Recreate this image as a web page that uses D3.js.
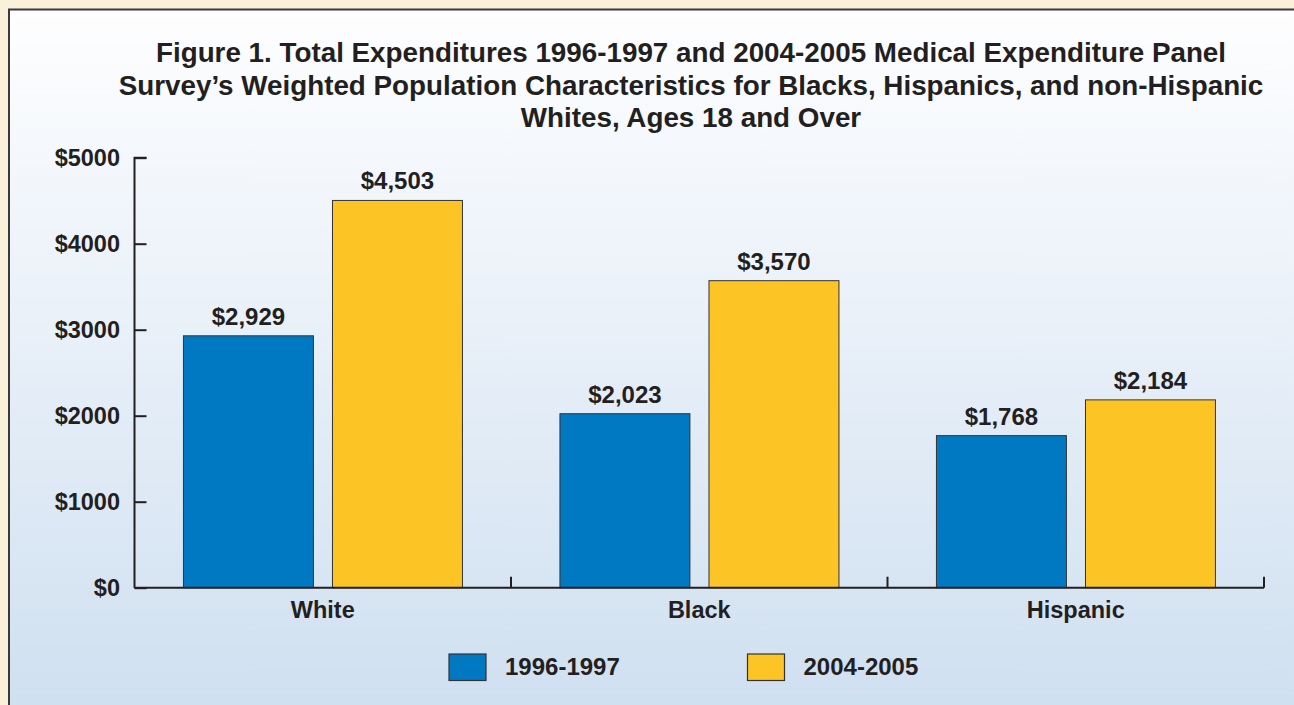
<!DOCTYPE html>
<html>
<head>
<meta charset="utf-8">
<script src="https://cdn.jsdelivr.net/npm/d3@7"></script>
<style>
  html, body { margin: 0; padding: 0; background: #FBF1DB; }
  svg { display: block; }
  text { font-family: "Liberation Sans", Arial, Helvetica, sans-serif; font-weight: bold; fill: #231F20; }
</style>
</head>
<body>
<svg id="chart" width="1294" height="705"></svg>
<script>
const titleLines = [
  "Figure 1. Total Expenditures 1996-1997 and 2004-2005 Medical Expenditure Panel",
  "Survey\u2019s Weighted Population Characteristics for Blacks, Hispanics, and non-Hispanic",
  "Whites, Ages 18 and Over"
];
const categories = ["White", "Black", "Hispanic"];
const seriesNames = ["1996-1997", "2004-2005"];
const values1996 = [2929, 2023, 1768];
const values2004 = [4503, 3570, 2184];
const yTicks = [0, 1000, 2000, 3000, 4000, 5000];
const seriesColors = ["#0079C2", "#FDC425"];

const seriesValues = [values1996, values2004];
const W = 1294, H = 705;
const svg = d3.select("#chart");

// background
const defs = svg.append("defs");
const grad = defs.append("linearGradient").attr("id", "bg").attr("x1", 0).attr("y1", 0).attr("x2", 0).attr("y2", 1);
grad.append("stop").attr("offset", "0%").attr("stop-color", "#FEFEFF");
grad.append("stop").attr("offset", "100%").attr("stop-color", "#CEDFF0");
svg.append("rect").attr("x", 0).attr("y", 0).attr("width", W).attr("height", H).attr("fill", "#FBF1DB");
svg.append("rect").attr("x", 9).attr("y", 9.5).attr("width", W + 10).attr("height", H + 10)
  .attr("fill", "url(#bg)").attr("stroke", "#3a3a3a").attr("stroke-width", 2);

// title
const title = svg.append("text").attr("text-anchor", "middle").style("font-size", "27.8px");
titleLines.forEach((t, i) => {
  title.append("tspan").attr("x", 691).attr("y", 62 + i * 32.7).text(t);
});

// scales
const plotL = 134.5, plotR = 1264, y0 = 587.7, yTop = 157.7;
const y = d3.scaleLinear().domain([0, 5000]).range([y0, yTop]);
const x0 = d3.scaleBand().domain(categories).range([plotL, plotR]).padding(0);
const bw = x0.bandwidth();
const x1 = d3.scaleBand().domain(seriesNames).range([bw * 0.13, bw * 0.13 + 279]).paddingInner(0.128).paddingOuter(0);

// bars
const g = svg.append("g");
categories.forEach((c, ci) => {
  seriesNames.forEach((s, si) => {
    const v = seriesValues[si][ci];
    g.append("rect")
      .attr("x", x0(c) + x1(s))
      .attr("y", y(v))
      .attr("width", x1.bandwidth())
      .attr("height", y0 - y(v))
      .attr("fill", seriesColors[si])
      .attr("stroke", "#333")
      .attr("stroke-width", 1);
    g.append("text")
      .attr("x", x0(c) + x1(s) + x1.bandwidth() / 2)
      .attr("y", y(v) - 11)
      .attr("text-anchor", "middle")
      .style("font-size", "24px")
      .text("$" + d3.format(",")(v));
  });
});

// y axis
const yAxis = d3.axisRight(y).tickValues(yTicks).tickSize(12).tickFormat(() => "");
const yg = svg.append("g").attr("transform", `translate(${plotL},0)`).call(yAxis);
yg.select(".domain").attr("d", `M12,${yTop}H0V${y0}`).attr("stroke", "#231F20").attr("stroke-width", 2);
yg.selectAll(".tick line").attr("stroke", "#231F20").attr("stroke-width", 2);
yTicks.forEach(t => {
  svg.append("text").attr("x", 120).attr("y", y(t) + 8).attr("text-anchor", "end")
    .style("font-size", "23.5px").text("$" + t);
});

// x axis
const xBoundaries = [plotL + bw, plotL + 2 * bw, plotR];
const xg = svg.append("g");
xg.append("line").attr("x1", plotL).attr("x2", plotR).attr("y1", y0).attr("y2", y0)
  .attr("stroke", "#231F20").attr("stroke-width", 2);
xBoundaries.forEach(xb => {
  xg.append("line").attr("x1", xb).attr("x2", xb).attr("y1", y0).attr("y2", y0 - 11)
    .attr("stroke", "#231F20").attr("stroke-width", 2);
});
categories.forEach(c => {
  svg.append("text").attr("x", x0(c) + bw / 2).attr("y", 618).attr("text-anchor", "middle")
    .style("font-size", "23.5px").text(c);
});

// legend
const legendX = [449, 747.5];
seriesNames.forEach((s, i) => {
  svg.append("rect").attr("x", legendX[i]).attr("y", 654).attr("width", 37).attr("height", 26.5)
    .attr("fill", seriesColors[i]).attr("stroke", "#333").attr("stroke-width", 1.2);
  svg.append("text").attr("x", legendX[i] + 56).attr("y", 674.5).style("font-size", "24px").text(s);
});
</script>
</body>
</html>
